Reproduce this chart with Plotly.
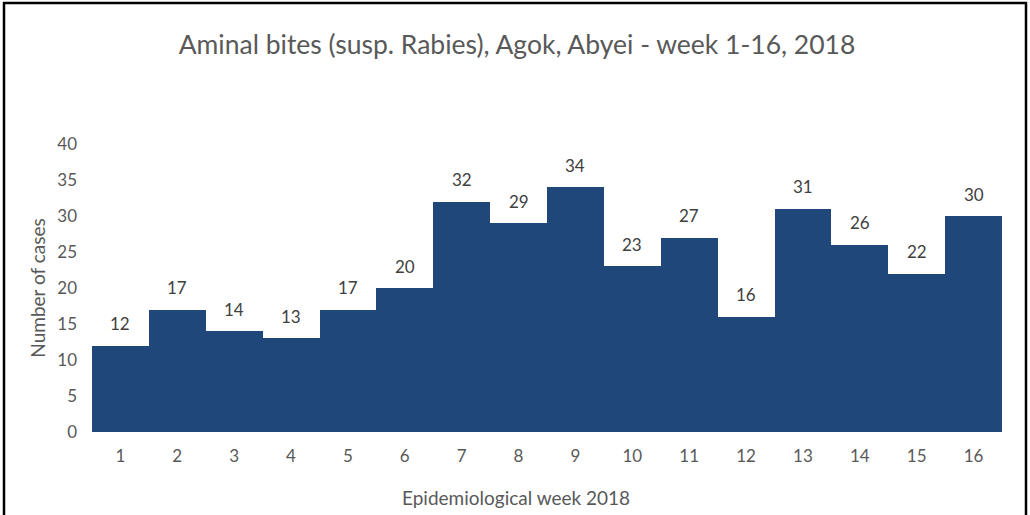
import plotly.graph_objects as go

weeks = list(range(1, 17))
cases = [12, 17, 14, 13, 17, 20, 32, 29, 34, 23, 27, 16, 31, 26, 22, 30]
y_ticks = [0, 5, 10, 15, 20, 25, 30, 35, 40]

title_text = "Aminal bites (susp. Rabies), Agok, Abyei - week 1-16, 2018"
x_title = "Epidemiological week 2018"
y_title = "Number of cases"

FONT = "Lato"
GREY = "#595959"

fig = go.Figure()
fig.add_trace(go.Bar(
    x=weeks, y=cases,
    marker=dict(color="#1F477A", line=dict(width=0)),
    hoverinfo="x+y",
))

for w, c in zip(weeks, cases):
    fig.add_annotation(x=w, y=c, text=str(c), showarrow=False,
                       yshift=22, font=dict(family=FONT, size=17, color="#404040"))

L, T, W, H = 92, 144, 910, 288
def px(xp): return (xp - L) / W
def py(yp): return (T + H - yp) / H

# x-axis title
fig.add_annotation(xref="paper", yref="paper", x=px(516), y=py(497),
                   text=x_title, showarrow=False, xanchor="center", yanchor="middle",
                   font=dict(family=FONT, size=19, color=GREY))

# outer frame
fig.add_shape(type="rect", xref="paper", yref="paper",
              x0=px(4), x1=px(1026), y0=py(530), y1=py(3),
              line=dict(color="black", width=2.5), fillcolor="rgba(0,0,0,0)")

fig.update_layout(
    width=1030, height=515,
    margin=dict(l=L, r=1030 - L - W, t=T, b=515 - T - H),
    paper_bgcolor="white", plot_bgcolor="white",
    bargap=0,
    showlegend=False,
    title=dict(text=title_text, x=517 / 1030, xref="container", xanchor="center",
               y=1 - 45 / 515, yanchor="middle",
               font=dict(family=FONT, size=26.5, color=GREY)),
    font=dict(family=FONT, color=GREY),
)
fig.update_xaxes(range=[0.5, 16.5], tickvals=weeks, ticktext=[str(w) for w in weeks],
                 showgrid=False, zeroline=False, showline=False, ticks="",
                 tickfont=dict(family=FONT, size=17, color=GREY),
                 ticklabelstandoff=12)
fig.update_yaxes(range=[0, 40], tickvals=y_ticks, showgrid=False, zeroline=False,
                 showline=False, ticks="",
                 tickfont=dict(family=FONT, size=17, color=GREY),
                 ticklabelstandoff=14,
                 title=dict(text=y_title, font=dict(family=FONT, size=19, color=GREY), standoff=6))

fig.write_html("out.html", config={"displayModeBar": False},
               post_script="document.body.style.margin='0';")
